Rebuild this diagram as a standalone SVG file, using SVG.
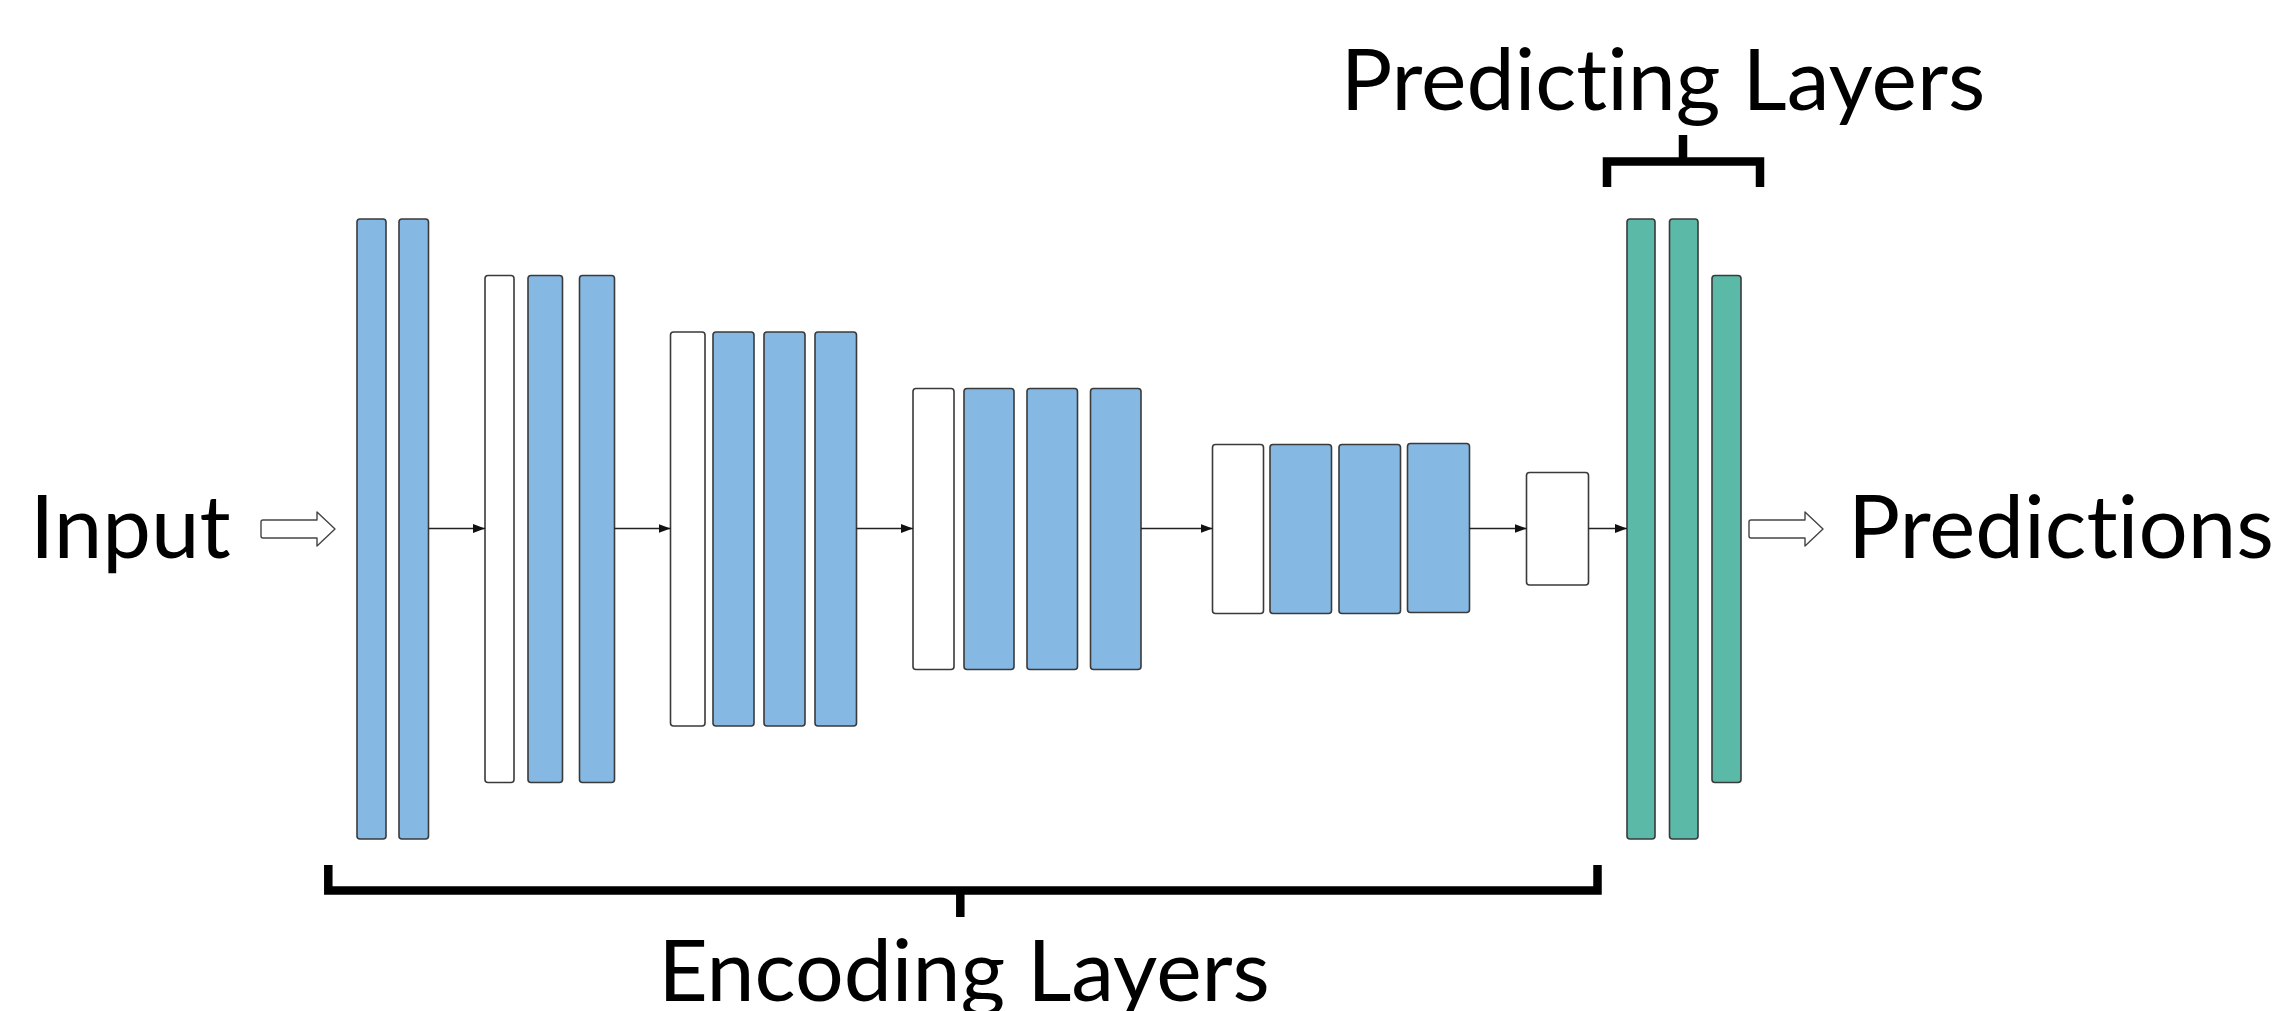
<svg xmlns="http://www.w3.org/2000/svg" width="2276" height="1011" viewBox="0 0 2276 1011">
  <defs>
    <marker id="head" viewBox="0 0 12 9" refX="12" refY="4.5" markerWidth="12" markerHeight="9" markerUnits="userSpaceOnUse" orient="auto">
      <path d="M0,0 L12,4.5 L0,9 Z" fill="#111"/>
    </marker>
  </defs>
  <style>
    .lbl { font-family: Lato, "Open Sans", "Liberation Sans", sans-serif; font-size: 87px; fill: #000; font-variant-ligatures: none; font-feature-settings: "liga" 0, "clig" 0, "dlig" 0; }
    .group-lbl { font-size: 86px; }
    .layer { stroke: #3a3a3a; stroke-width: 1.6; }
    .conv { fill: #85b9e3; }
    .pool { fill: #ffffff; }
    .pred { fill: #5bb9a8; }
    .link { stroke: #222; stroke-width: 1.3; fill: none; marker-end: url(#head); }
    .bracket { stroke: #000; stroke-width: 8.5; fill: none; stroke-linecap: butt; stroke-linejoin: miter; }
    .bigarrow { fill: #fff; stroke: #444; stroke-width: 1.4; stroke-linejoin: round; }
  </style>

  <rect width="2276" height="1011" fill="#fff"/>

  <!-- labels -->
  <text class="lbl" x="30" y="558">Input</text>
  <text class="lbl" x="1848" y="558">Predictions</text>
  <text class="lbl group-lbl" x="1663" y="110" text-anchor="middle">Predicting Layers</text>
  <text class="lbl group-lbl" x="964" y="1001" text-anchor="middle">Encoding Layers</text>

  <!-- input / output block arrows -->
  <path class="bigarrow" d="M263,520 H317 V512 L335,529 L317,546 V538 H263 Q261,538 261,536 V522 Q261,520 263,520 Z"/>
  <path class="bigarrow" d="M1751,520 H1805 V512 L1823,529 L1805,546 V538 H1751 Q1749,538 1749,536 V522 Q1749,520 1751,520 Z"/>

  <!-- encoding stage 1 -->
  <g id="stage1">
    <rect class="layer conv" x="357" y="219" width="29" height="620" rx="3"/>
    <rect class="layer conv" x="399" y="219" width="29.5" height="620" rx="3"/>
  </g>

  <!-- encoding stage 2 -->
  <g id="stage2">
    <rect class="layer pool" x="485" y="275.5" width="29" height="507" rx="3"/>
    <rect class="layer conv" x="528" y="275.5" width="34.5" height="507" rx="3"/>
    <rect class="layer conv" x="579.5" y="275.5" width="35" height="507" rx="3"/>
  </g>

  <!-- encoding stage 3 -->
  <g id="stage3">
    <rect class="layer pool" x="670.5" y="332" width="34.5" height="394" rx="3"/>
    <rect class="layer conv" x="713" y="332" width="41" height="394" rx="3"/>
    <rect class="layer conv" x="764" y="332" width="41" height="394" rx="3"/>
    <rect class="layer conv" x="815" y="332" width="41.5" height="394" rx="3"/>
  </g>

  <!-- encoding stage 4 -->
  <g id="stage4">
    <rect class="layer pool" x="913" y="388.5" width="41" height="281" rx="3"/>
    <rect class="layer conv" x="964" y="388.5" width="50" height="281" rx="3"/>
    <rect class="layer conv" x="1027" y="388.5" width="50.5" height="281" rx="3"/>
    <rect class="layer conv" x="1090.5" y="388.5" width="50.5" height="281" rx="3"/>
  </g>

  <!-- encoding stage 5 -->
  <g id="stage5">
    <rect class="layer pool" x="1212.5" y="444.5" width="51" height="169" rx="3"/>
    <rect class="layer conv" x="1270" y="444.5" width="61.5" height="169" rx="3"/>
    <rect class="layer conv" x="1339" y="444.5" width="61.5" height="169" rx="3"/>
    <rect class="layer conv" x="1407.5" y="443.5" width="62" height="169" rx="3"/>
  </g>

  <!-- bottleneck -->
  <g id="bottleneck">
    <rect class="layer pool" x="1526.5" y="472.5" width="62" height="112.5" rx="3"/>
  </g>

  <!-- predicting layers -->
  <g id="predict">
    <rect class="layer pred" x="1627" y="219" width="28" height="620" rx="3"/>
    <rect class="layer pred" x="1669.5" y="219" width="28.5" height="620" rx="3"/>
    <rect class="layer pred" x="1712" y="275.5" width="29" height="507" rx="3"/>
  </g>

  <!-- connectors between stages -->
  <g id="connectors">
    <line class="link" x1="428.5" y1="528.5" x2="485" y2="528.5"/>
    <line class="link" x1="614.5" y1="528.5" x2="670.5" y2="528.5"/>
    <line class="link" x1="856.5" y1="528.5" x2="913" y2="528.5"/>
    <line class="link" x1="1141" y1="528.5" x2="1212.5" y2="528.5"/>
    <line class="link" x1="1469.5" y1="528.5" x2="1526.5" y2="528.5"/>
    <line class="link" x1="1588.5" y1="528.5" x2="1627" y2="528.5"/>
  </g>

  <!-- brackets -->
  <g id="brackets">
    <path class="bracket" d="M1607,187 V161.5 H1760 V187"/>
    <path class="bracket" d="M1683,161.5 V135"/>
    <path class="bracket" d="M328.3,865 V890.5 H1597.5 V865"/>
    <path class="bracket" d="M960.3,890.5 V917"/>
  </g>
</svg>
